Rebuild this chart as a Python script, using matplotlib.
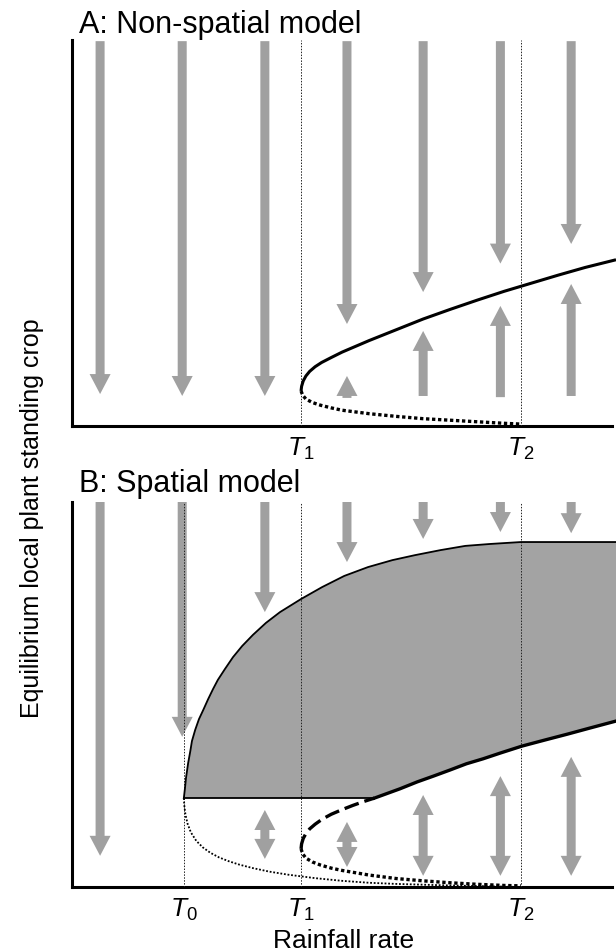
import matplotlib
matplotlib.use("Agg")
import matplotlib.pyplot as plt
from matplotlib.patches import Polygon

plt.rcParams['font.family'] = ['Liberation Sans', 'DejaVu Sans']
plt.rcParams['mathtext.fontset'] = 'custom'
plt.rcParams['mathtext.rm'] = 'Liberation Sans'
plt.rcParams['mathtext.it'] = 'Liberation Sans:italic'

# ---------------- data (rainfall units 0..10, crop units 0..10) ----------------
T_values = [2.07, 4.24, 8.31]          # T0, T1, T2
T_labels = [r'$T_0$', r'$T_1$', r'$T_2$']

arrow_x = [0.52, 2.04, 3.57, 5.09, 6.50, 7.93, 9.24]

# Panel A arrows
A_down_tip = [0.83, 0.78, 0.78, 2.65, 3.48, 4.22, 4.73]
A_up_x = [5.09, 6.50, 7.93, 9.24]
A_up_base = [0.73, 0.78, 0.75, 0.78]
A_up_tip = [1.30, 2.47, 3.12, 3.69]

# Panel A curves
A_stable_x = [4.24, 4.25, 4.28, 4.33, 4.40, 4.50, 4.62, 4.80, 5.00, 5.25, 5.50, 5.75, 6.00, 6.50,
              7.00, 7.50, 8.00, 8.50, 9.00, 9.50, 10.07]
A_stable_y = [0.91, 1.03, 1.17, 1.30, 1.42, 1.54, 1.65, 1.78, 1.92, 2.07, 2.22, 2.36, 2.50, 2.78,
              3.03, 3.27, 3.50, 3.71, 3.92, 4.12, 4.32]
A_unstable_x = [4.24, 4.27, 4.33, 4.45, 4.60, 4.80, 5.00, 5.50, 6.00, 6.50, 7.00, 7.50, 8.00, 8.31]
A_unstable_y = [0.91, 0.80, 0.70, 0.61, 0.54, 0.47, 0.41, 0.32, 0.25, 0.19, 0.15, 0.11, 0.07, 0.05]

# Panel B arrows
B_down_tip = [0.81, 3.90, 7.14, 8.44, 9.04, 9.22, 9.19]
B_double_x = [3.57, 5.09, 6.50, 7.93, 9.24]
B_double_top = [2.00, 1.69, 2.39, 2.88, 3.38]
B_double_bottom = [0.73, 0.52, 0.29, 0.29, 0.29]

# Panel B curves
B_upper_x = [2.07, 2.09, 2.11, 2.15, 2.19, 2.22, 2.28, 2.35, 2.43, 2.52, 2.61, 2.70, 2.83, 2.98,
             3.15, 3.35, 3.59, 3.85, 4.24, 4.63, 5.04, 5.48, 5.93, 6.35, 6.82, 7.28, 7.74, 8.31, 10.07]
B_upper_y = [2.31, 2.55, 2.83, 3.22, 3.53, 3.79, 4.08, 4.36, 4.60, 4.88, 5.14, 5.38, 5.66, 5.97,
             6.26, 6.55, 6.86, 7.14, 7.48, 7.79, 8.08, 8.31, 8.49, 8.62, 8.75, 8.86, 8.91, 8.96, 8.96]
B_shelf_y = 2.31
B_stable_x = [5.60, 6.07, 6.39, 6.69, 7.00, 7.30, 7.61, 7.93, 8.33, 8.76, 9.17, 9.59, 10.07]
B_stable_y = [2.31, 2.55, 2.73, 2.88, 3.04, 3.20, 3.33, 3.48, 3.66, 3.82, 3.97, 4.13, 4.31]
B_dashed_x = [4.24, 4.25, 4.28, 4.33, 4.40, 4.50, 4.63, 4.80, 5.00, 5.20, 5.40, 5.60]
B_dashed_y = [0.99, 1.12, 1.26, 1.39, 1.51, 1.63, 1.76, 1.89, 2.01, 2.12, 2.22, 2.31]
B_unstable_x = [4.24, 4.27, 4.33, 4.45, 4.60, 4.80, 5.00, 5.50, 6.00, 6.50, 7.00, 7.50, 8.00, 8.31]
B_unstable_y = [0.99, 0.86, 0.75, 0.65, 0.57, 0.49, 0.43, 0.31, 0.22, 0.16, 0.11, 0.07, 0.04, 0.03]
B_t0branch_x = [2.07, 2.08, 2.10, 2.14, 2.20, 2.30, 2.42, 2.56, 2.72, 2.90, 3.10, 3.35, 3.65, 4.00,
                4.50, 5.00, 5.50, 6.00, 7.00, 8.31]
B_t0branch_y = [2.31, 2.10, 1.88, 1.64, 1.42, 1.20, 1.03, 0.89, 0.77, 0.67, 0.58, 0.49, 0.40, 0.32,
                0.23, 0.16, 0.11, 0.08, 0.04, 0.00]

# ---------------- styling ----------------
W, H = 616, 953
GREY = '#a0a0a0'
FILL = '#a3a3a3'
XMAX = 10.07
px_x = 54.0   # pixels per x unit
px_y = 38.5   # pixels per y unit
SHAFT = 9 / px_x
HEADW = 21 / px_x
HEADL = 20 / px_y

fig = plt.figure(figsize=(W / 100, H / 100), dpi=100)
axA = fig.add_axes([72 / W, 1 - 427 / H, (W - 72) / W, 386 / H])
axB = fig.add_axes([72 / W, 1 - 888 / H, (W - 72) / W, 385 / H])


def varrow(ax, x, y0, y1):
    ax.arrow(x, y0, 0, y1 - y0, width=SHAFT, head_width=HEADW, head_length=HEADL,
             length_includes_head=True, fc=GREY, ec='none', zorder=2)


def darrow(ax, cx, b, t):
    s, h = SHAFT / 2, HEADW / 2
    verts = [(cx, t), (cx + h, t - HEADL), (cx + s, t - HEADL), (cx + s, b + HEADL),
             (cx + h, b + HEADL), (cx, b), (cx - h, b + HEADL), (cx - s, b + HEADL),
             (cx - s, t - HEADL), (cx - h, t - HEADL)]
    ax.add_patch(Polygon(verts, closed=True, fc=GREY, ec='none', zorder=2))


def setup(ax, ytop):
    ax.set_xlim(0, XMAX)
    ax.set_ylim(0, ytop)
    for s in ['top', 'right']:
        ax.spines[s].set_visible(False)
    for s in ['left', 'bottom']:
        ax.spines[s].set_linewidth(2.2)
    ax.spines['bottom'].set_bounds(0, 10.0)
    ax.set_yticks([])
    ax.tick_params(axis='x', length=0, pad=6, labelsize=19)


# ---------------- Panel A ----------------
setup(axA, 10.03)
for x, tip in zip(arrow_x, A_down_tip):
    varrow(axA, x, 10.0, tip)
for x, b, t in zip(A_up_x, A_up_base, A_up_tip):
    varrow(axA, x, b, t)
for tv in T_values[1:]:
    axA.axvline(tv, color='#222222', lw=0.7, ls=(0, (1.5, 1.5)), zorder=3)
axA.plot(A_stable_x, A_stable_y, color='black', lw=2.2, zorder=4, clip_on=False,
         solid_capstyle='butt')
axA.plot(A_unstable_x, A_unstable_y, color='black', lw=2.4, ls=(0, (1, 0.8)), zorder=4,
         dash_capstyle='butt')
axA.set_xticks(T_values[1:])
axA.set_xticklabels(T_labels[1:])

# ---------------- Panel B ----------------
setup(axB, 10.0)
poly_x = B_upper_x + B_stable_x[::-1] + [B_upper_x[0]]
poly_y = B_upper_y + B_stable_y[::-1] + [B_shelf_y]
axB.fill(poly_x, poly_y, color=FILL, lw=0, zorder=1)
axB.plot(B_upper_x, B_upper_y, color='black', lw=1.3, zorder=4, clip_on=False)
axB.plot([B_upper_x[0], B_stable_x[0]], [B_shelf_y, B_shelf_y], color='black', lw=1.3, zorder=4)
for x, tip in zip(arrow_x, B_down_tip):
    varrow(axB, x, 10.0, tip)
for x, t, b in zip(B_double_x, B_double_top, B_double_bottom):
    darrow(axB, x, b, t)
for tv in T_values:
    axB.axvline(tv, color='#222222', lw=0.7, ls=(0, (1.5, 1.5)), zorder=3)
axB.plot(B_stable_x, B_stable_y, color='black', lw=2.4, zorder=4, clip_on=False)
axB.plot(B_dashed_x, B_dashed_y, color='black', lw=2.4, ls=(0, (4.5, 1.8)), zorder=4)
axB.plot(B_unstable_x, B_unstable_y, color='black', lw=2.4, ls=(0, (1, 0.8)), zorder=4,
         dash_capstyle='butt')
axB.plot(B_t0branch_x, B_t0branch_y, color='black', lw=1.3, ls=(0, (1, 1)), zorder=4)
axB.set_xticks(T_values)
axB.set_xticklabels(T_labels)

# ---------------- text ----------------
fig.text(79 / W, 1 - 33 / H, 'A: Non-spatial model', fontsize=22, va='baseline', ha='left')
fig.text(79 / W, 1 - 492 / H, 'B: Spatial model', fontsize=22, va='baseline', ha='left')
fig.text(344 / W, 1 - 948 / H, 'Rainfall rate', fontsize=19, va='baseline', ha='center')
fig.text(32 / W, 1 - 518 / H, 'Equilibrium local plant standing crop', fontsize=18,
         rotation=90, va='center', ha='center')

fig.savefig('out.png', dpi=100)
